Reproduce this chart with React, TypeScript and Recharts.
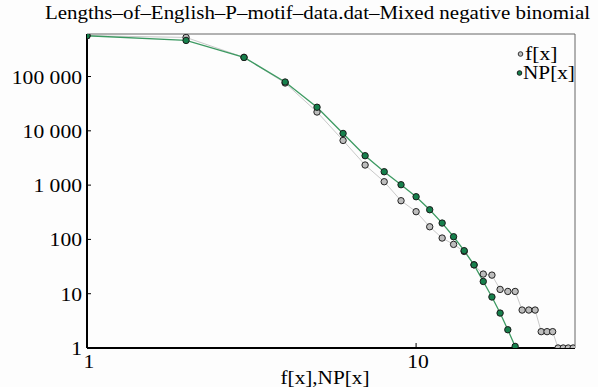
import React from "react";
import { Customized, Legend, Line, LineChart, ReferenceLine, XAxis, YAxis } from "recharts";

// observed lengths x = 1..30
const lengths = [1, 2, 3, 4, 5, 6, 7, 8, 9, 10, 11, 12, 13, 14, 15, 16, 17, 18, 19, 20, 21, 22, 23, 24, 25, 26, 27, 28, 29, 30];
// f[x] — observed frequencies
const observed = [564000, 525000, 225000, 76000, 22200, 6650, 2345, 1155, 516, 324, 171, 106, 81, 60, 34, 23, 22, 12, 11, 11, 5, 5, 5, 2, 2, 2, 1, 1, 1, 1];
// NP[x] — fitted mixed negative binomial (shown while >= 1)
const fitted = [564000, 462000, 225000, 79200, 27200, 8950, 3480, 1765, 1017, 611, 352, 200, 112, 62, 34, 16.8, 8.7, 4.4, 2.17, 1.07];

const xTicks = [1, 10];
const yTicks = [1, 10, 100, 1000, 10000, 100000];

const fData = lengths.map((x, i) => ({ x, y: observed[i] }));
const npData = fitted.map((y, i) => ({ x: lengths[i], y }));

const SERIF = "'Liberation Serif', 'Times New Roman', serif";
const GRAY_FILL = "#bdbdbd";
const GREEN_FILL = "#16804c";

const fmt = (v: number) => v.toLocaleString("en-US").replace(/,/g, " ");

const YTick = (props: any) => {
  const { x, y, payload } = props;
  return (
    <g>
      <line x1={x} x2={x + 4} y1={y} y2={y} stroke="#000" strokeWidth={1} />
      <g transform={`translate(${x - 5},${y + 7}) scale(1.2,1)`}>
        <text textAnchor="end" fontFamily={SERIF} fontSize={18} fill="#000">
          {fmt(payload.value)}
        </text>
      </g>
    </g>
  );
};

const XTick = (props: any) => {
  const { x, y, payload } = props;
  return (
    <g>
      <line x1={x} x2={x} y1={y} y2={y - 5} stroke="#000" strokeWidth={1} />
      <g transform={`translate(${x + 2},${y + 20}) scale(1.2,1)`}>
        <text textAnchor="middle" fontFamily={SERIF} fontSize={18} fill="#000">
          {payload.value}
        </text>
      </g>
    </g>
  );
};

const LegendBox = () => (
  <svg width={72} height={42} style={{ display: "block" }}>
    <circle cx={6.5} cy={10} r={2.3} fill={GRAY_FILL} stroke="#333" strokeWidth={1} />
    <g transform="translate(11,16) scale(1.2,1)">
      <text fontFamily={SERIF} fontSize={18} fill="#000">f[x]</text>
    </g>
    <circle cx={5.5} cy={29} r={2.3} fill={GREEN_FILL} stroke="#1a1a1a" strokeWidth={1} />
    <g transform="translate(9,35) scale(1.18,1)">
      <text fontFamily={SERIF} fontSize={18} fill="#000">NP[x]</text>
    </g>
  </svg>
);

const Title = () => (
  <text
    x={45}
    y={19}
    textLength={545}
    lengthAdjust="spacingAndGlyphs"
    fontFamily={SERIF}
    fontSize={19}
    fill="#000"
  >
    Lengths–of–English–P–motif–data.dat–Mixed negative binomial
  </text>
);

export default function App() {
  return (
    <div style={{ position: "absolute", left: 0, top: 0, background: "#fdfdfd" }}>
      <LineChart width={598} height={387} margin={{ top: 34, right: 23, left: 0, bottom: 0 }}>
        <XAxis
          dataKey="x"
          type="number"
          scale="log"
          domain={[1, 30.4]}
          allowDataOverflow
          ticks={xTicks}
          height={39}
          tickSize={0}
          tickMargin={0}
          tickLine={false}
          tick={<XTick />}
          axisLine={{ stroke: "#000", strokeWidth: 2 }}
          label={{
            content: () => (
              <g transform="translate(325,384) scale(1.18,1)">
                <text textAnchor="middle" fontFamily={SERIF} fontSize={18} fill="#000">
                  f[x],NP[x]
                </text>
              </g>
            ),
          }}
        />
        <YAxis
          dataKey="y"
          type="number"
          scale="log"
          domain={[1, 607000]}
          allowDataOverflow
          ticks={yTicks}
          width={87}
          tickSize={0}
          tickMargin={0}
          tickLine={false}
          tick={<YTick />}
          axisLine={{ stroke: "#000", strokeWidth: 2 }}
        />
        <ReferenceLine y={607000} stroke="#666" strokeWidth={1} />
        <ReferenceLine x={30.4} stroke="#666" strokeWidth={1} />
        <Line
          data={fData}
          dataKey="y"
          name="f[x]"
          stroke="#c9c9c9"
          strokeWidth={1}
          dot={{ r: 3.2, fill: GRAY_FILL, stroke: "#222", strokeWidth: 1 }}
          activeDot={false}
          isAnimationActive={false}
        />
        <Line
          data={npData}
          dataKey="y"
          name="NP[x]"
          stroke="#3d9a62"
          strokeWidth={1.3}
          dot={{ r: 3.2, fill: GREEN_FILL, stroke: "#1a1a1a", strokeWidth: 1 }}
          activeDot={false}
          isAnimationActive={false}
        />
        <Legend
          layout="horizontal"
          verticalAlign="middle"
          align="center"
          content={() => <LegendBox />}
          wrapperStyle={{ left: 514, top: 44, width: 72 }}
        />
        <Customized component={Title} />
      </LineChart>
    </div>
  );
}
